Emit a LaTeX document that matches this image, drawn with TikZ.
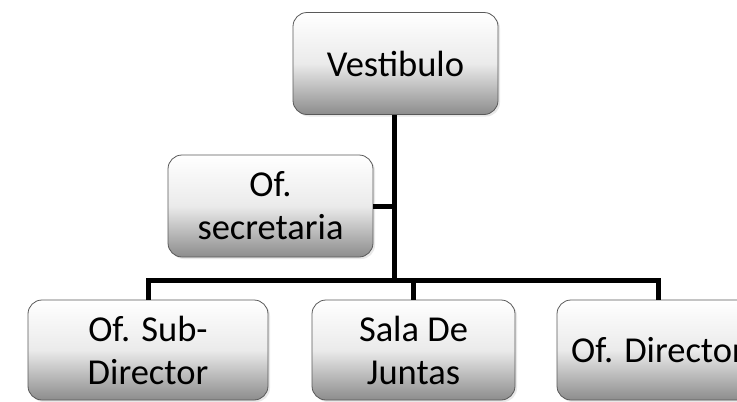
\documentclass[tikz,border=0pt]{standalone}
\usepackage{fontspec}
\setmainfont{Carlito}
\usetikzlibrary{shadows}
\begin{document}
\begin{tikzpicture}[x=1pt,y=-1pt,
  boxst/.style={draw=black!65, line width=0.8pt, rounded corners=14pt,
    top color=white, bottom color=black!45, middle color=black!8,
    drop shadow={opacity=0.18, shadow xshift=2pt, shadow yshift=-2pt},
    align=center, font=\fontsize{36.5}{43}\selectfont, inner sep=0pt},
  conn/.style={line width=5pt, line join=miter, line cap=butt, draw=black}
]
\useasboundingbox (0,0) rectangle (737,402);
\clip (0,0) rectangle (737,402);
\fill[white] (0,0) rectangle (737,402);
\node[boxst, minimum width=205pt, minimum height=102pt] (v) at (395.5,63.5) {Vestibulo};
\node[boxst, minimum width=205pt, minimum height=102pt] (s) at (270.5,206) {Of.\\secretaria};
\node[boxst, minimum width=240pt, minimum height=100pt] (sd) at (148,350) {Of. Sub-\\Director};
\node[boxst, minimum width=203pt, minimum height=100pt] (sj) at (413.5,350) {Sala De\\Juntas};
\node[boxst, minimum width=202pt, minimum height=100pt] (dr) at (658,350) {Of. Director};
\coordinate (bar) at (0,280);
\draw[conn] (v.south -| 394,0) -- (394,280);
\draw[conn] (s.east) -- (s.east -| 394,0);
\draw[conn] (sd.north) -- (sd.north |- bar) -- (dr.north |- bar) -- (dr.north);
\draw[conn] (sj.north) -- (sj.north |- bar);
\end{tikzpicture}
\end{document}
